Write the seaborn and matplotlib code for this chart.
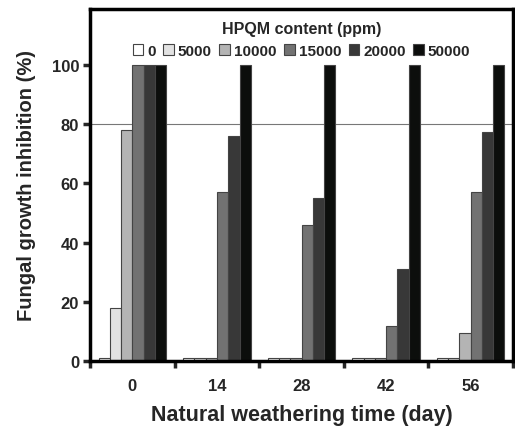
import pandas as pd
import matplotlib.pyplot as plt
import seaborn as sns
from matplotlib.ticker import FixedLocator

# weathering days and HPQM contents
days = ['0', '14', '28', '42', '56']
contents = ['0', '5000', '10000', '15000', '20000', '50000']

# fungal growth inhibition (%) per content, one value per day
inh_0 = [1, 1, 1, 1, 1]
inh_5000 = [18, 1, 1, 1, 1]
inh_10000 = [78, 1, 1, 1, 9.5]
inh_15000 = [100, 57, 46, 12, 57]
inh_20000 = [100, 76, 55, 31, 77.5]
inh_50000 = [100, 100, 100, 100, 100]

series = [inh_0, inh_5000, inh_10000, inh_15000, inh_20000, inh_50000]
colors = ['#ffffff', '#e2e2e2', '#b4b4b4', '#727272', '#383838', '#0c0e0c']

# long table for seaborn
rows = []
for c, vals in zip(contents, series):
    for d, v in zip(days, vals):
        rows.append({'day': d, 'content': c, 'value': v})
df = pd.DataFrame(rows)

sns.set_theme(style='white')
plt.rcParams['font.family'] = ['Liberation Sans', 'DejaVu Sans']
plt.rcParams['font.weight'] = 'bold'

fig = plt.figure(figsize=(5.15, 4.27), dpi=100)
ax = fig.add_axes([0.175, 0.152, 0.821, 0.825])

sns.barplot(data=df, x='day', y='value', hue='content', order=days,
            hue_order=contents, palette=colors, width=0.8,
            edgecolor='#444444', linewidth=0.8, ax=ax, errorbar=None)

# 80 % reference line
ax.axhline(80, color='#777777', lw=0.8, zorder=0)

ax.set_xlim(-0.5, 4.5)
ax.set_ylim(0, 119)
ax.set_yticks([0, 20, 40, 60, 80, 100])
ax.xaxis.set_minor_locator(FixedLocator([-0.5, 0.5, 1.5, 2.5, 3.5, 4.5]))
ax.tick_params(axis='x', which='major', length=0, pad=12, labelsize=12)
ax.tick_params(axis='x', which='minor', length=5, width=2.5, direction='out', bottom=True)
ax.tick_params(axis='y', length=5, width=2.5, direction='out', left=True, labelsize=12, pad=3)
for lab in ax.get_xticklabels() + ax.get_yticklabels():
    lab.set_fontweight('bold')

for s in ax.spines.values():
    s.set_linewidth(2.5)
    s.set_color('black')

ax.set_xlabel('Natural weathering time (day)', fontsize=15.5, fontweight='bold', labelpad=8)
ax.set_ylabel('Fungal growth inhibition (%)', fontsize=14.5, fontweight='bold', labelpad=11)

leg = ax.legend(title='HPQM content (ppm)', ncol=6, loc='upper center',
                bbox_to_anchor=(0.5, 1.0), frameon=False, fontsize=11,
                title_fontproperties={'weight': 'bold', 'size': 11.5},
                handlelength=0.7, handleheight=0.7, handletextpad=0.25,
                columnspacing=0.5, borderaxespad=0.4)
for t in leg.get_texts():
    t.set_fontweight('bold')

fig.savefig('out.png', dpi=100)
